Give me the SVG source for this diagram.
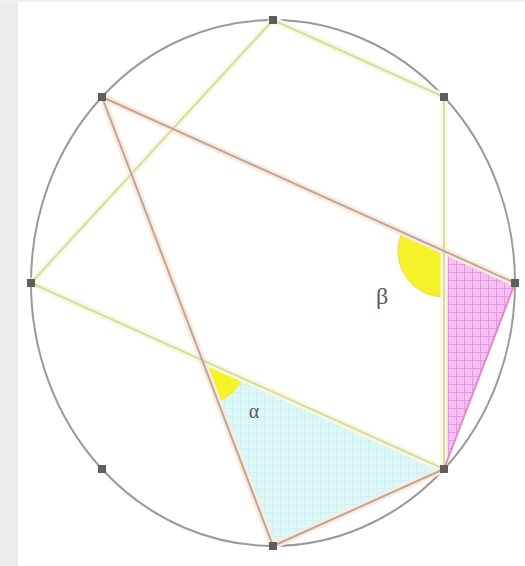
<svg xmlns="http://www.w3.org/2000/svg" width="525" height="566" viewBox="0 0 525 566">
<defs>
<pattern id="gridPink" width="8" height="8" patternUnits="userSpaceOnUse">
<rect width="8" height="8" fill="#f7bff5"/>
<path d="M0 0.5H8M0.5 0V8" stroke="#e49ae2" stroke-width="1"/>
</pattern>
<pattern id="gridCyan" width="8" height="8" patternUnits="userSpaceOnUse">
<rect width="8" height="8" fill="#dcf7f8"/>
<path d="M0 0.5H8M0.5 0V8" stroke="#d2f0f2" stroke-width="1"/>
</pattern>
<style>
.halo-g{stroke:#f8f9df;stroke-width:7;fill:none;stroke-linecap:round}
.ln-g{stroke:#d6dca8;stroke-width:2;fill:none}
.halo-t{stroke:#fbeadf;stroke-width:7;fill:none;stroke-linecap:round}
.ln-t{stroke:#bda898;stroke-width:2;fill:none}
.ln-p{stroke:#e58ac8;stroke-width:2;fill:none}
.pt{fill:#5e5e5e}
.lbl{font-family:"Liberation Serif","DejaVu Serif",serif;fill:#5a5a5a}
</style>
</defs>
<rect x="0" y="0" width="525" height="566" fill="#ffffff"/>
<rect x="0" y="0" width="18" height="566" fill="#ececec"/>
<rect x="0" y="0" width="525" height="2" fill="#efefef"/>

<g id="regions">
<polygon id="cyan-triangle" points="202,360 444,469 273,546" fill="url(#gridCyan)"/>
<polygon id="pink-triangle" points="444,251 515,283 444,469" fill="url(#gridPink)"/>
<path id="beta-angle" d="M444,251 L402.1,232.1 A46,46 0 0 0 444,297 Z" fill="#f5f22a" stroke="#e8d84a" stroke-width="1"/>
<path id="alpha-angle" d="M202,360 L243,378.5 A45,45 0 0 1 218,402 Z" fill="#f5f22a"/>
</g>

<g id="circle">
<ellipse cx="273" cy="283" rx="242" ry="263" fill="none" stroke="#9a9a9a" stroke-width="2"/>
</g>

<g id="connectors">
<g id="halos">
<line class="halo-g" x1="273" y1="20" x2="444" y2="97"/>
<line class="halo-g" x1="444" y1="97" x2="444" y2="469"/>
<line class="halo-g" x1="273" y1="20" x2="31" y2="283"/>
<line class="halo-g" x1="31" y1="283" x2="444" y2="469"/>
<line class="halo-t" x1="102" y1="97" x2="515" y2="283"/>
<line class="halo-t" x1="102" y1="97" x2="273" y2="546"/>
<line class="halo-t" x1="273" y1="546" x2="444" y2="469"/>
</g>
<line class="ln-g" x1="273" y1="20" x2="444" y2="97"/>
<line class="ln-g" x1="444" y1="97" x2="444" y2="469"/>
<line class="ln-g" x1="273" y1="20" x2="31" y2="283"/>
<line class="ln-g" x1="31" y1="283" x2="444" y2="469"/>
<line class="ln-t" x1="102" y1="97" x2="515" y2="283"/>
<line class="ln-t" x1="102" y1="97" x2="273" y2="546"/>
<line class="ln-t" x1="273" y1="546" x2="444" y2="469"/>
<line class="ln-p" x1="515" y1="283" x2="444" y2="469"/>
</g>

<g id="points">
<rect id="p0" class="pt" x="511" y="279" width="8" height="8"/>
<rect id="p1" class="pt" x="440" y="93" width="8" height="8"/>
<rect id="p2" class="pt" x="269" y="16" width="8" height="8"/>
<rect id="p3" class="pt" x="98" y="93" width="8" height="8"/>
<rect id="p4" class="pt" x="27" y="279" width="8" height="8"/>
<rect id="p5" class="pt" x="98" y="465" width="8" height="8"/>
<rect id="p6" class="pt" x="269" y="542" width="8" height="8"/>
<rect id="p7" class="pt" x="440" y="465" width="8" height="8"/>
</g>

<g id="labels">
<text class="lbl" x="382" y="304" font-size="24" text-anchor="middle">β</text>
<text class="lbl" x="254" y="418" font-size="20" text-anchor="middle" fill="#7a7a7a">α</text>
</g>
</svg>
